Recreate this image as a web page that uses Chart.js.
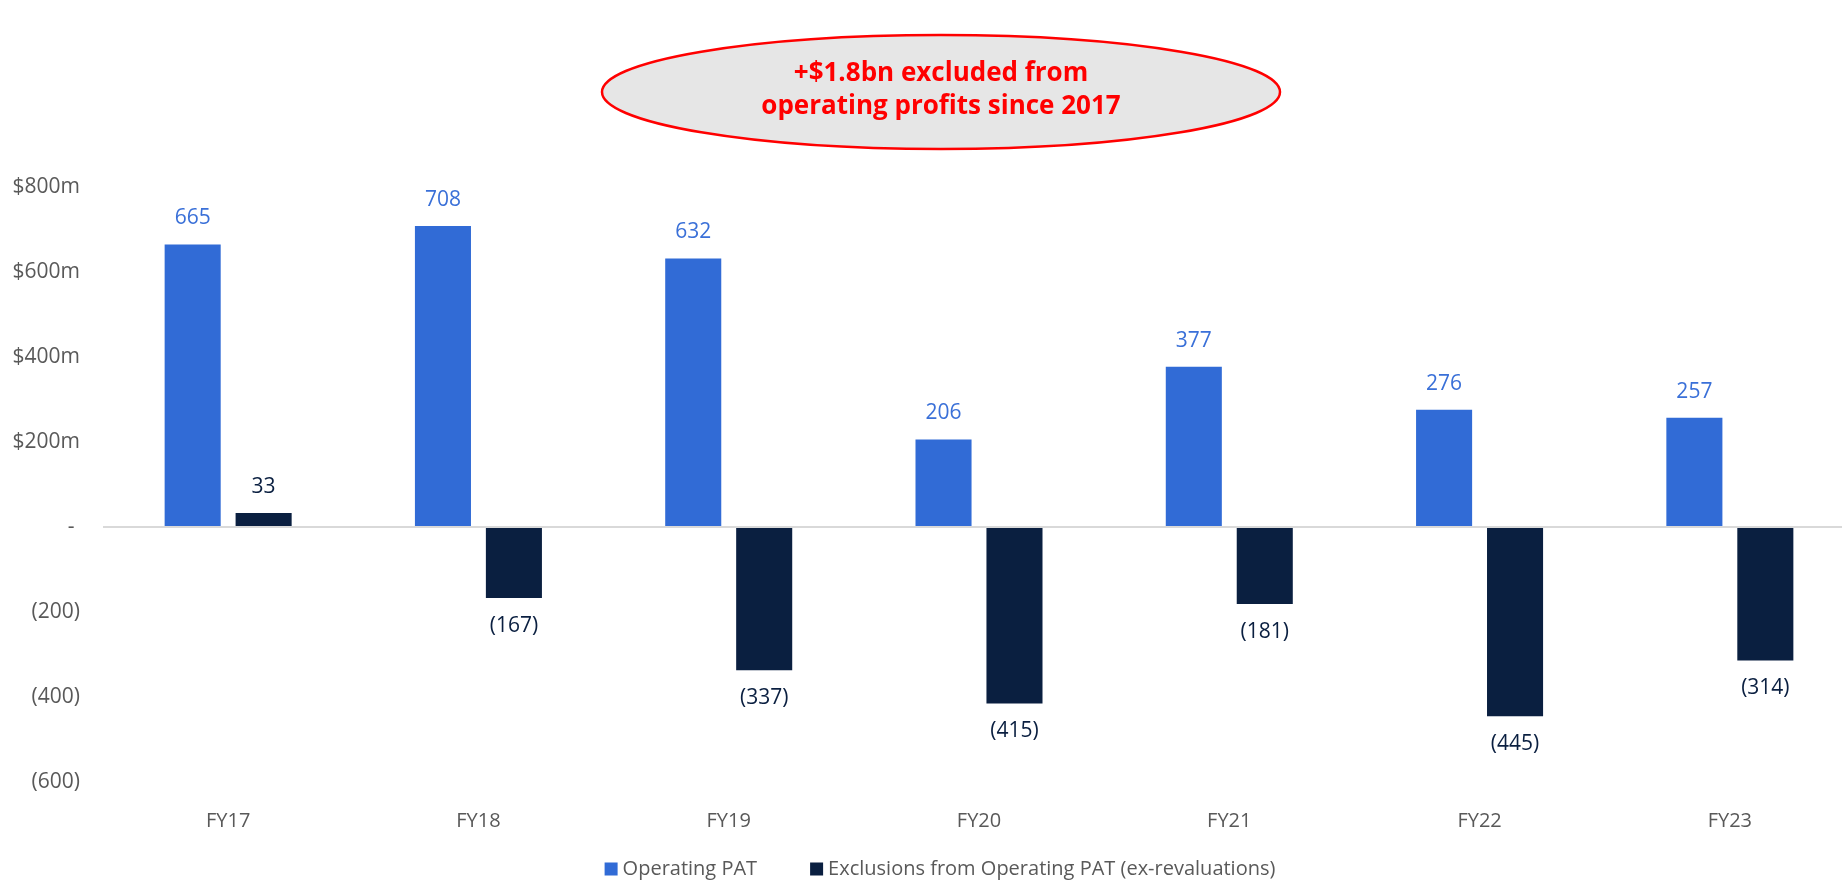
<!DOCTYPE html>
<html>
<head>
<meta charset="utf-8">
<script src="https://cdn.jsdelivr.net/npm/chart.js@4"></script>
<style>
  html, body { margin: 0; padding: 0; background: #fff; overflow: hidden; }
  #wrap { width: 1880px; height: 880px; }
</style>
</head>
<body>
<div id="wrap"><canvas id="patChart" width="1880" height="880"></canvas></div>
<script>
const categories = ['FY17', 'FY18', 'FY19', 'FY20', 'FY21', 'FY22', 'FY23'];
const operatingPat = [665, 708, 632, 206, 377, 276, 257];
const exclusions = [33, -167, -337, -415, -181, -445, -314];
const seriesNames = ['Operating PAT', 'Exclusions from Operating PAT (ex-revaluations)'];
const seriesColors = ['#316BD6', '#0A1F40'];
const labelColors = ['#3A70D8', '#0A1F40'];
const calloutLines = ['+$1.8bn excluded from', 'operating profits since 2017'];

const FONT = '"Open Sans", "Noto Sans", sans-serif';
const GREY = '#595959';

const fmtValue = v => v < 0 ? '(' + Math.abs(v) + ')' : String(v);

// value labels above / below each bar
const barLabels = {
  id: 'barLabels',
  afterDatasetsDraw(chart) {
    const ctx = chart.ctx;
    ctx.save();
    ctx.font = '21px ' + FONT;
    ctx.textAlign = 'center';
    ctx.textBaseline = 'middle';
    chart.data.datasets.forEach((ds, i) => {
      const meta = chart.getDatasetMeta(i);
      ctx.fillStyle = labelColors[i];
      meta.data.forEach((bar, j) => {
        const v = ds.data[j];
        const y = v >= 0 ? bar.y - 26 : bar.y + 28;
        ctx.fillText(fmtValue(v), bar.x, y);
      });
    });
    ctx.restore();
  }
};

// grey oval callout at the top
const callout = {
  id: 'callout',
  afterDraw(chart) {
    const ctx = chart.ctx;
    ctx.save();
    ctx.beginPath();
    ctx.ellipse(941, 92, 339, 57, 0, 0, Math.PI * 2);
    ctx.fillStyle = '#E6E6E6';
    ctx.fill();
    ctx.lineWidth = 2.5;
    ctx.strokeStyle = '#FF0000';
    ctx.stroke();
    ctx.fillStyle = '#FF0000';
    ctx.font = 'bold 26px ' + FONT;
    ctx.textAlign = 'center';
    ctx.textBaseline = 'middle';
    ctx.fillText(calloutLines[0], 941, 74);
    ctx.fillText(calloutLines[1], 941, 107);
    ctx.restore();
  }
};

// legend row along the bottom
const bottomLegend = {
  id: 'bottomLegend',
  afterDraw(chart) {
    const ctx = chart.ctx;
    const box = 13, gap = 5, spacing = 53, cy = 869;
    ctx.save();
    ctx.font = '20px ' + FONT;
    ctx.textBaseline = 'middle';
    const widths = seriesNames.map(n => ctx.measureText(n).width);
    const total = widths.reduce((a, w) => a + box + gap + w, 0) + spacing * (seriesNames.length - 1);
    let x = 940 - total / 2;
    seriesNames.forEach((n, i) => {
      ctx.fillStyle = seriesColors[i];
      ctx.fillRect(x, cy - box / 2, box, box);
      ctx.fillStyle = GREY;
      ctx.fillText(n, x + box + gap, cy);
      x += box + gap + widths[i] + spacing;
    });
    ctx.restore();
  }
};

new Chart(document.getElementById('patChart'), {
  type: 'bar',
  data: {
    labels: categories,
    datasets: [
      { label: seriesNames[0], data: operatingPat, backgroundColor: seriesColors[0] },
      { label: seriesNames[1], data: exclusions, backgroundColor: seriesColors[1] }
    ]
  },
  options: {
    responsive: false,
    devicePixelRatio: 1,
    animation: false,
    categoryPercentage: 0.567,
    barPercentage: 0.79,
    layout: { padding: { top: 187, right: 25, bottom: 38, left: 0 } },
    plugins: {
      legend: { display: false },
      tooltip: { enabled: false }
    },
    scales: {
      x: {
        grid: { display: false },
        border: { display: false },
        ticks: { color: GREY, font: { family: FONT, size: 20 }, padding: 19 },
        afterFit: s => { s.height = 60; }
      },
      y: {
        min: -600,
        max: 800,
        border: { display: false },
        grid: {
          drawTicks: false,
          lineWidth: 2,
          color: c => c.tick && c.tick.value === 0 ? '#D9D9D9' : 'rgba(0,0,0,0)'
        },
        ticks: {
          stepSize: 200,
          padding: 23,
          color: GREY,
          font: { family: FONT, size: 21 },
          callback: v => v > 0 ? '$' + v + 'm' : v === 0 ? '- ' : '(' + Math.abs(v) + ')'
        },
        afterFit: s => { s.width = 103; }
      }
    }
  },
  plugins: [barLabels, callout, bottomLegend]
});
</script>
</body>
</html>
